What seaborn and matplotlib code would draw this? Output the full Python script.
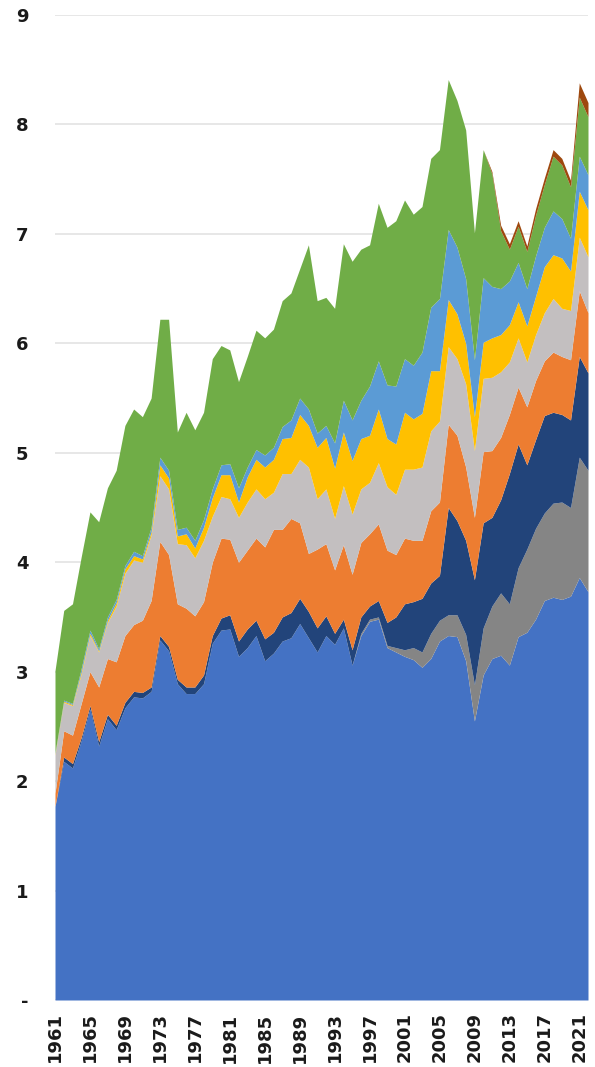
import matplotlib
matplotlib.use("Agg")
import matplotlib.pyplot as plt
import seaborn as sns

years = list(range(1961, 2023))

series_blue = [
    1.77, 2.18, 2.12, 2.37, 2.66, 2.32, 2.57, 2.47, 2.67, 2.77,
    2.76, 2.82, 3.29, 3.19, 2.89, 2.80, 2.80, 2.89, 3.26, 3.38,
    3.39, 3.14, 3.22, 3.33, 3.10, 3.17, 3.28, 3.31, 3.44, 3.31,
    3.18, 3.33, 3.25, 3.40, 3.06, 3.33, 3.46, 3.48, 3.22, 3.18,
    3.14, 3.11, 3.04, 3.12, 3.28, 3.33, 3.32, 3.10, 2.55, 2.97,
    3.12, 3.15, 3.06, 3.32, 3.36, 3.48, 3.65, 3.68, 3.66, 3.69,
    3.86, 3.73,
]
series_gray = [
    0, 0, 0, 0, 0, 0, 0, 0, 0, 0,
    0, 0, 0, 0, 0, 0, 0, 0, 0, 0,
    0, 0, 0, 0, 0, 0, 0, 0, 0, 0,
    0, 0, 0, 0, 0, 0.02, 0.02, 0.02, 0.02, 0.04,
    0.06, 0.11, 0.14, 0.23, 0.19, 0.19, 0.20, 0.24, 0.33, 0.43,
    0.48, 0.57, 0.56, 0.63, 0.76, 0.83, 0.80, 0.86, 0.89, 0.81,
    1.10, 1.11,
]
series_navy = [
    0.00, 0.04, 0.04, 0.03, 0.03, 0.04, 0.04, 0.04, 0.05, 0.05,
    0.05, 0.04, 0.04, 0.04, 0.04, 0.06, 0.06, 0.08, 0.07, 0.11,
    0.13, 0.14, 0.17, 0.14, 0.20, 0.19, 0.22, 0.23, 0.23, 0.24,
    0.22, 0.18, 0.10, 0.08, 0.14, 0.15, 0.12, 0.15, 0.21, 0.28,
    0.42, 0.42, 0.49, 0.46, 0.41, 0.98, 0.86, 0.86, 0.96, 0.96,
    0.81, 0.85, 1.19, 1.13, 0.77, 0.81, 0.89, 0.83, 0.80, 0.80,
    0.92, 0.89,
]
series_orange = [
    0.12, 0.24, 0.26, 0.31, 0.31, 0.50, 0.51, 0.58, 0.61, 0.61,
    0.66, 0.79, 0.86, 0.84, 0.69, 0.72, 0.65, 0.67, 0.67, 0.73,
    0.69, 0.72, 0.72, 0.75, 0.84, 0.94, 0.80, 0.86, 0.69, 0.53,
    0.72, 0.66, 0.58, 0.68, 0.69, 0.68, 0.66, 0.70, 0.66, 0.57,
    0.60, 0.56, 0.53, 0.66, 0.67, 0.76, 0.78, 0.67, 0.57, 0.65,
    0.61, 0.57, 0.54, 0.52, 0.53, 0.54, 0.50, 0.55, 0.53, 0.55,
    0.60, 0.55,
]
series_silver = [
    0.35, 0.26, 0.27, 0.27, 0.33, 0.32, 0.33, 0.51, 0.57, 0.59,
    0.53, 0.60, 0.60, 0.60, 0.55, 0.58, 0.53, 0.56, 0.42, 0.38,
    0.37, 0.41, 0.44, 0.45, 0.44, 0.34, 0.51, 0.41, 0.58, 0.79,
    0.46, 0.50, 0.47, 0.54, 0.55, 0.49, 0.47, 0.56, 0.58, 0.55,
    0.63, 0.65, 0.67, 0.73, 0.74, 0.71, 0.70, 0.76, 0.61, 0.67,
    0.67, 0.60, 0.48, 0.45, 0.41, 0.42, 0.44, 0.49, 0.44, 0.45,
    0.49, 0.51,
]
series_gold = [
    0.01, 0.01, 0.01, 0.02, 0.02, 0.01, 0.02, 0.03, 0.04, 0.04,
    0.03, 0.03, 0.10, 0.10, 0.07, 0.10, 0.09, 0.12, 0.17, 0.20,
    0.22, 0.14, 0.23, 0.27, 0.29, 0.30, 0.32, 0.33, 0.41, 0.38,
    0.47, 0.47, 0.46, 0.49, 0.49, 0.46, 0.43, 0.49, 0.44, 0.46,
    0.52, 0.46, 0.49, 0.55, 0.46, 0.43, 0.41, 0.37, 0.31, 0.33,
    0.36, 0.34, 0.34, 0.33, 0.33, 0.35, 0.42, 0.40, 0.46, 0.36,
    0.42, 0.43,
]
series_sky = [
    0.01, 0.01, 0.01, 0.03, 0.03, 0.02, 0.03, 0.03, 0.03, 0.04,
    0.03, 0.04, 0.07, 0.07, 0.06, 0.06, 0.07, 0.07, 0.08, 0.09,
    0.10, 0.13, 0.09, 0.09, 0.11, 0.11, 0.11, 0.16, 0.15, 0.15,
    0.13, 0.11, 0.23, 0.29, 0.37, 0.35, 0.45, 0.44, 0.49, 0.53,
    0.49, 0.49, 0.56, 0.58, 0.66, 0.64, 0.61, 0.59, 0.52, 0.59,
    0.47, 0.42, 0.40, 0.36, 0.34, 0.37, 0.36, 0.40, 0.36, 0.30,
    0.32, 0.32,
]
series_green = [
    0.75, 0.82, 0.91, 1.02, 1.08, 1.16, 1.18, 1.18, 1.28, 1.30,
    1.27, 1.18, 1.26, 1.38, 0.89, 1.05, 1.01, 0.98, 1.19, 1.09,
    1.04, 0.97, 1.01, 1.09, 1.07, 1.08, 1.15, 1.16, 1.18, 1.50,
    1.21, 1.17, 1.23, 1.43, 1.45, 1.38, 1.29, 1.44, 1.44, 1.51,
    1.45, 1.38, 1.33, 1.36, 1.36, 1.37, 1.34, 1.36, 1.16, 1.17,
    1.03, 0.53, 0.29, 0.33, 0.34, 0.37, 0.39, 0.50, 0.49, 0.47,
    0.54, 0.53,
]
series_brown = [0] * 50 + [
    0.02, 0.05, 0.05, 0.05, 0.05, 0.06, 0.06, 0.06, 0.06, 0.06,
    0.13, 0.13,
]

layer_colors = ["#4472C4", "#858585", "#22447A", "#ED7D31", "#C3BFC0",
                "#FFC000", "#5B9BD5", "#70AD47", "#9E480E"]

tick_years = list(range(1961, 2023, 4))
y_ticks = list(range(0, 10))
y_tick_labels = ["-"] + [str(v) for v in y_ticks[1:]]

sns.set_theme(style="white")
plt.rcParams["font.family"] = ["DejaVu Sans"]

fig = plt.figure(figsize=(5.95, 10.67), dpi=100)
ax = fig.add_axes([55 / 595, 67 / 1067, 533 / 595, 985 / 1067])

# stacked layers, no outlines so empty layers leave no trace
ax.stackplot(
    years,
    series_blue, series_gray, series_navy, series_orange, series_silver,
    series_gold, series_sky, series_green, series_brown,
    colors=layer_colors, linewidth=0, zorder=2,
)

ax.set_xlim(1961, 2022)
ax.set_ylim(0, 9)
ax.set_yticks(y_ticks)
ax.set_yticklabels(y_tick_labels)
ax.set_xticks(tick_years)
ax.set_xticklabels([str(y) for y in tick_years], rotation=90)

ax.yaxis.grid(True, color="#E3E3E3", linewidth=1.2, zorder=0)
ax.xaxis.grid(False)
ax.set_axisbelow(True)
for side in ["top", "right", "left", "bottom"]:
    ax.spines[side].set_visible(False)

ax.tick_params(axis="y", length=0, pad=19, labelsize=13, labelcolor="#1a1a1a")
ax.tick_params(axis="x", length=0, pad=9, labelsize=13, labelcolor="#1a1a1a")
for lbl in ax.get_xticklabels() + ax.get_yticklabels():
    lbl.set_fontweight("bold")

fig.savefig("out.png", dpi=100, facecolor="white")
